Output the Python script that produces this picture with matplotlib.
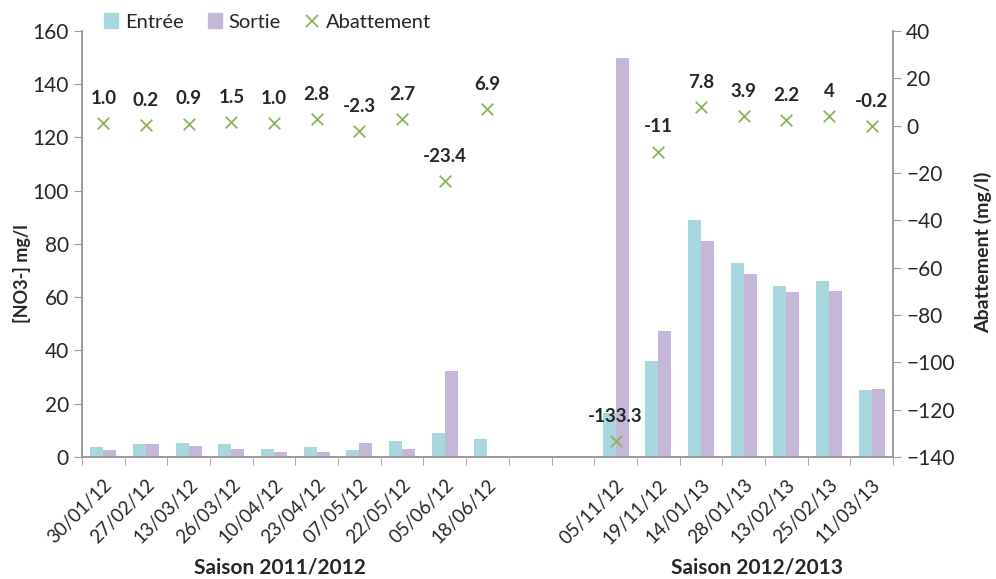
import matplotlib.pyplot as plt
import numpy as np
from matplotlib.lines import Line2D
from matplotlib.patches import Patch

plt.rcParams['font.family'] = ['Lato', 'DejaVu Sans']

# Data
dates_1 = ['30/01/12', '27/02/12', '13/03/12', '26/03/12', '10/04/12',
           '23/04/12', '07/05/12', '22/05/12', '05/06/12', '18/06/12']
dates_2 = ['05/11/12', '19/11/12', '14/01/13', '28/01/13', '13/02/13',
           '25/02/13', '11/03/13']
entree_1 = [3.8, 5.0, 5.4, 4.8, 2.9, 3.9, 2.8, 5.9, 9.0, 6.9]
sortie_1 = [2.8, 4.8, 4.0, 2.9, 1.9, 1.7, 5.1, 3.0, 32.4, 0.0]
entree_2 = [16.7, 36.2, 89.0, 73.0, 64.3, 66.0, 25.2]
sortie_2 = [150.0, 47.3, 81.0, 68.6, 62.0, 62.2, 25.4]
abat_1 = [1.0, 0.2, 0.9, 1.5, 1.0, 2.8, -2.3, 2.7, -23.4, 6.9]
abat_2 = [-133.3, -11, 7.8, 3.9, 2.2, 4, -0.2]
abat_lbl_1 = ['1.0', '0.2', '0.9', '1.5', '1.0', '2.8', '-2.3', '2.7', '-23.4', '6.9']
abat_lbl_2 = ['-133.3', '-11', '7.8', '3.9', '2.2', '4', '-0.2']

n_gap = 2
x1 = np.arange(len(dates_1))
x2 = np.arange(len(dates_2)) + len(dates_1) + n_gap
n_cat = len(dates_1) + n_gap + len(dates_2)

c_in = '#a8d8de'
c_out = '#c4b7d8'
c_ab = '#8fb35a'
c_axis = '#9a9a9a'
c_txt = '#262626'

fig = plt.figure(figsize=(9.96, 5.79), dpi=100)
ax = fig.add_axes([0.0823, 0.2107, 0.8143, 0.7358])
w = 0.305
x_all = np.concatenate([x1, x2])
ax.bar(x_all - w / 2, entree_1 + entree_2, width=w, color=c_in, zorder=2)
ax.bar(x_all + w / 2, sortie_1 + sortie_2, width=w, color=c_out, zorder=2)
ax.set_xlim(-0.5, n_cat - 0.5)
ax.set_ylim(0, 160)
ax.set_yticks(np.arange(0, 161, 20))

ax.set_xticks(x_all)
ax.set_xticklabels(dates_1 + dates_2, rotation=45, ha='right', rotation_mode='anchor',
                   fontsize=13.5, color=c_txt)
ax.set_xticks(np.arange(-0.5, n_cat, 1), minor=True)
ax.tick_params(axis='x', which='major', length=0, pad=14)
ax.tick_params(axis='x', which='minor', length=6, color=c_axis, direction='out')
ax.tick_params(axis='y', length=6, color=c_axis, labelsize=15, labelcolor=c_txt)

ax2 = ax.twinx()
ax2.set_ylim(-140, 40)
ax2.set_yticks(np.arange(-140, 41, 20))
ax2.tick_params(axis='y', length=6, color=c_axis, labelsize=15, labelcolor=c_txt)
ax2.scatter(x_all, abat_1 + abat_2, marker='x', s=70, color=c_ab, linewidths=1.3, zorder=3)
for xi, yi, lbl in zip(x_all, abat_1 + abat_2, abat_lbl_1 + abat_lbl_2):
    ax2.annotate(lbl, (xi, yi), xytext=(0, 18), textcoords='offset points',
                 ha='center', va='center', fontsize=13.5, fontweight='bold', color=c_txt)

for a in (ax, ax2):
    a.spines['top'].set_visible(False)
    for s in ('left', 'right', 'bottom'):
        a.spines[s].set_color(c_axis)
        a.spines[s].set_linewidth(1.2)

ax.set_ylabel('[NO3-] mg/l', fontsize=13, fontweight='bold', color=c_txt)
ax.yaxis.set_label_coords(-0.074, 0.43)
ax.yaxis.label.set_va('center')
ax2.set_ylabel('Abattement (mg/l)', fontsize=14, fontweight='bold', color=c_txt)
ax2.yaxis.set_label_coords(1.111, 0.48)
ax2.yaxis.label.set_va('center')

fig.text(280 / 996, 1 - 567 / 579, 'Saison 2011/2012', ha='center', va='center',
         fontsize=15, fontweight='bold', color=c_txt)
fig.text(757 / 996, 1 - 567 / 579, 'Saison 2012/2013', ha='center', va='center',
         fontsize=15, fontweight='bold', color=c_txt)

handles = [Patch(color=c_in), Patch(color=c_out),
           Line2D([], [], marker='x', color=c_ab, linestyle='none', markersize=8, mew=1.3)]
fig.legend(handles, ['Entrée', 'Sortie', 'Abattement'], ncol=3, frameon=False,
           loc='center left', bbox_to_anchor=(0.094, 0.962), fontsize=14.5,
           handlelength=0.7, handleheight=0.7, handletextpad=0.35, columnspacing=1.2,
           borderpad=0.0, labelcolor=c_txt)

fig.savefig('out.png', dpi=100)
